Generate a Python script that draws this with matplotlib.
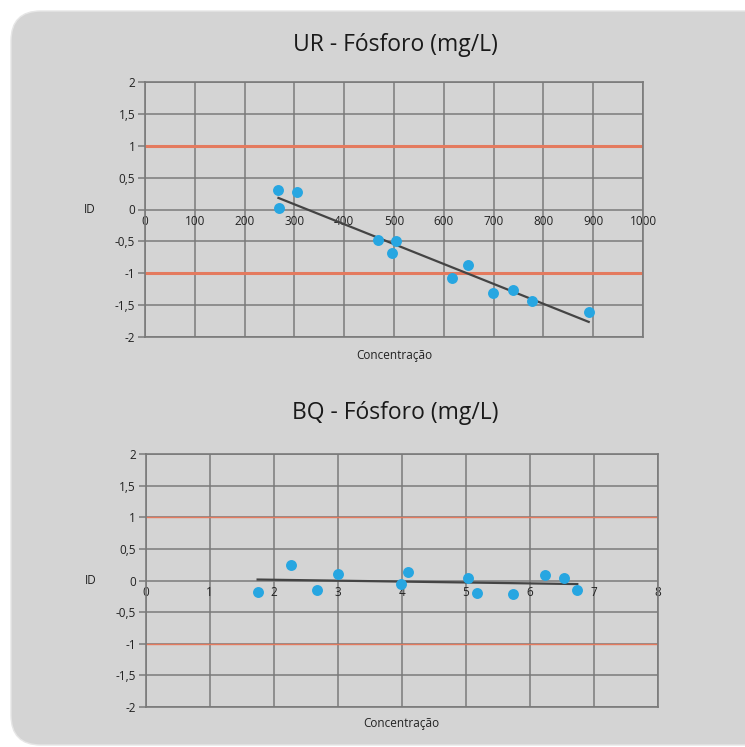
import numpy as np
import matplotlib
matplotlib.use("Agg")
import matplotlib.pyplot as plt
from matplotlib.patches import FancyBboxPatch

plt.rcParams['font.family'] = ['Open Sans', 'DejaVu Sans']

# ---- data ----
ur_title = "UR - Fósforo (mg/L)"
ur_x = [268, 270, 306, 467, 505, 495, 617, 648, 698, 738, 778, 891]
ur_y = [0.30, 0.02, 0.27, -0.48, -0.49, -0.69, -1.08, -0.87, -1.31, -1.27, -1.44, -1.60]
ur_xticks = [0, 100, 200, 300, 400, 500, 600, 700, 800, 900, 1000]

bq_title = "BQ - Fósforo (mg/L)"
bq_x = [1.75, 2.27, 2.67, 3.01, 3.99, 4.10, 5.03, 5.17, 5.74, 6.24, 6.53, 6.74]
bq_y = [-0.18, 0.25, -0.15, 0.11, -0.05, 0.13, 0.04, -0.19, -0.22, 0.09, 0.04, -0.15]
bq_xticks = [0, 1, 2, 3, 4, 5, 6, 7, 8]

yticks = [2, 1.5, 1, 0.5, 0, -0.5, -1, -1.5, -2]
ytick_labels = ["2", "1,5", "1", "0,5", "0", "-0,5", "-1", "-1,5", "-2"]
limits = [1, -1]
xlabel = "Concentração"
ylabel = "ID"

PANEL = "#d4d4d4"
GRID = "#7a7a7a"
RED = "#e47a5e"
DOT = "#27a6e1"
TREND = "#444444"
TEXT = "#222222"

fig = plt.figure(figsize=(7.45, 7.47), dpi=100)
fig.patch.set_facecolor("white")

W, H = 745.0, 747.0
panel = FancyBboxPatch((11 / W, 2 / H), 1.2, (745 - 11) / H,
                       boxstyle="round,pad=0,rounding_size=0.04",
                       transform=fig.transFigure, facecolor=PANEL,
                       edgecolor="#e6e6e6", linewidth=1.0, zorder=-5)
fig.patches.append(panel)


def draw(ax, xs, ys, xticks, title, red_lw, title_y, xlabel_y):
    ax.set_facecolor("none")
    ax.set_xlim(xticks[0], xticks[-1])
    ax.set_ylim(-2, 2)
    ax.set_yticks(yticks)
    ax.set_yticklabels(ytick_labels)
    ax.set_xticks(xticks)
    ax.set_xticklabels([str(t) for t in xticks])
    for s in ["left", "right", "top"]:
        ax.spines[s].set_color(GRID)
        ax.spines[s].set_linewidth(1.2)
    ax.spines["bottom"].set_position(("data", 0))
    ax.spines["bottom"].set_visible(False)
    ax.axhline(-2, color=GRID, lw=1.2, clip_on=False, zorder=1)
    ax.grid(True, color=GRID, lw=1.1, zorder=1)
    ax.tick_params(axis="y", length=5, width=1.1, color=GRID, labelsize=8.5,
                   labelcolor=TEXT, pad=2)
    ax.tick_params(axis="x", length=0, labelsize=8.5, labelcolor=TEXT, pad=4)
    for lv in limits:
        ax.axhline(lv, color=RED, lw=red_lw, zorder=2)
    # trend line
    coef = np.polyfit(xs, ys, 1)
    xx = np.array([min(xs), max(xs)])
    ax.plot(xx, np.polyval(coef, xx), color=TREND, lw=1.6, zorder=3)
    ax.scatter(xs, ys, s=62, color=DOT, zorder=4, linewidths=0)
    fig.text(395 / W, title_y, title, ha="center", va="center", fontsize=16.5,
             color="#1a1a1a")
    bb = ax.get_position()
    fig.text((bb.x0 + bb.x1) / 2, xlabel_y, xlabel, ha="center", va="center",
             fontsize=8.5, color=TEXT)
    ax.set_ylabel(ylabel, rotation=0, fontsize=8.5, color=TEXT, labelpad=18,
                  va="center")


ax1 = fig.add_axes([145 / W, 1 - 337 / H, (643 - 145) / W, (337 - 82) / H])
draw(ax1, ur_x, ur_y, ur_xticks, ur_title, 2.2, 1 - 45 / H, 1 - 356 / H)

ax2 = fig.add_axes([145.5 / W, 1 - 707 / H, (658 - 145.5) / W, (707 - 454) / H])
draw(ax2, bq_x, bq_y, bq_xticks, bq_title, 1.0, 1 - 413 / H, 1 - 724 / H)

fig.savefig("out.png", dpi=100, facecolor=fig.get_facecolor())
